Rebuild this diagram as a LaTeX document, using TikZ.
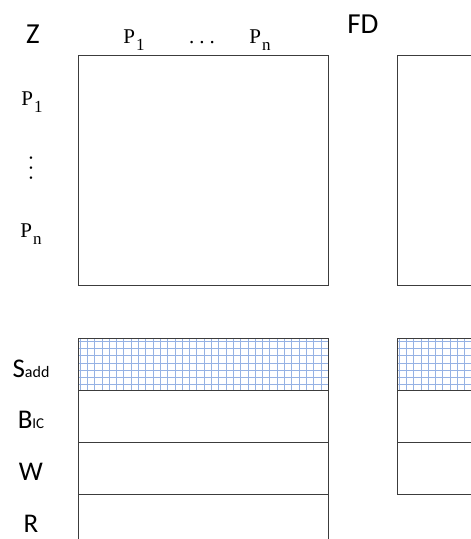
\documentclass[tikz,border=0pt]{standalone}
\usepackage{fontspec}
\newfontfamily\sansf{Carlito}
\newfontfamily\serf{Liberation Serif}
\definecolor{gridblue}{RGB}{150,178,228}
\definecolor{boxgray}{RGB}{60,60,60}
\newcommand{\Psub}[1]{P\kern1pt\raisebox{-7.5pt}{\fontsize{17}{18}\selectfont #1}}
\begin{document}
\begin{tikzpicture}[x=1pt,y=-1pt,
  box/.style={draw=boxgray,line width=1pt},
  gridln/.style={draw=gridblue,line width=0.75pt},
  big/.style={font=\sansf\fontsize{29}{31}\selectfont,inner sep=0pt},
  side/.style={font=\sansf\fontsize{27}{29}\selectfont,inner sep=0pt},
  mth/.style={font=\serf\fontsize{21}{23}\selectfont,inner sep=0pt}]
\useasboundingbox (0,0) rectangle (471,539);
% grids
\begin{scope}
\clip (78,338) rectangle (328,390);
\foreach \x in {0,...,35} \draw[gridln] ({80+7.3*\x},338) -- ({80+7.3*\x},390);
\foreach \y in {0,...,7} \draw[gridln] (78,{341+7.3*\y}) -- (328,{341+7.3*\y});
\end{scope}
\begin{scope}
\clip (397,338) rectangle (472,390);
\foreach \x in {0,...,11} \draw[gridln] ({399+7.3*\x},338) -- ({399+7.3*\x},390);
\foreach \y in {0,...,7} \draw[gridln] (397,{341+7.3*\y}) -- (472,{341+7.3*\y});
\end{scope}
% boxes
\node[box,minimum width=250,minimum height=230,inner sep=0,anchor=north west] (Zb) at (78,55) {};
\coordinate (FDtl) at (397,55);
\draw[box] (480,55) -- (FDtl) -- (397,285) -- (480,285);
\node[box,minimum width=250,minimum height=52,inner sep=0,anchor=north west] (s1) at (78,338) {};
\node[box,minimum width=250,minimum height=52,inner sep=0,anchor=north west] (b1) at (78,390) {};
\node[box,minimum width=250,minimum height=52,inner sep=0,anchor=north west] (w1) at (78,442) {};
\coordinate (r1) at (78,494);
\draw[box] (78,550) -- (r1) -- (328,494) -- (328,550);
\coordinate (FDs) at (397,338);
\draw[box] (480,338) -- (FDs) -- (397,494) -- (480,494);
\draw[box] (397,390) -- (480,390);
\draw[box] (397,442) -- (480,442);
% labels
\node[big,anchor=base] (Z) at (33,43) {Z};
\node[big,anchor=base] (FD) at (363,33) {FD};
\node[mth,anchor=base] (c1) at (134,43) {\Psub{1}};
\node[mth,anchor=base] (cd) at (202,43) {.\hspace{5pt}.\hspace{5pt}.};
\node[mth,anchor=base] (cn) at (260,43) {\Psub{n}};
\node[mth,anchor=base] (r1l) at (32,105) {\Psub{1}};
\node[mth,rotate=-90] (rd) at (31,168) {.\hspace{4.5pt}.\hspace{4.5pt}.};
\node[mth,anchor=base] (rnl) at (31,237) {\Psub{n}};
\node[side,anchor=base] (Sl) at (31,377) {S{\fontsize{16}{18}\selectfont add}};
\node[side,anchor=base] (Bl) at (31,428) {B{\fontsize{15}{18}\selectfont IC}};
\node[side,anchor=base] (Wl) at (31,480) {W};
\node[side,anchor=base] (Rl) at (31,532) {R};
\end{tikzpicture}
\end{document}
